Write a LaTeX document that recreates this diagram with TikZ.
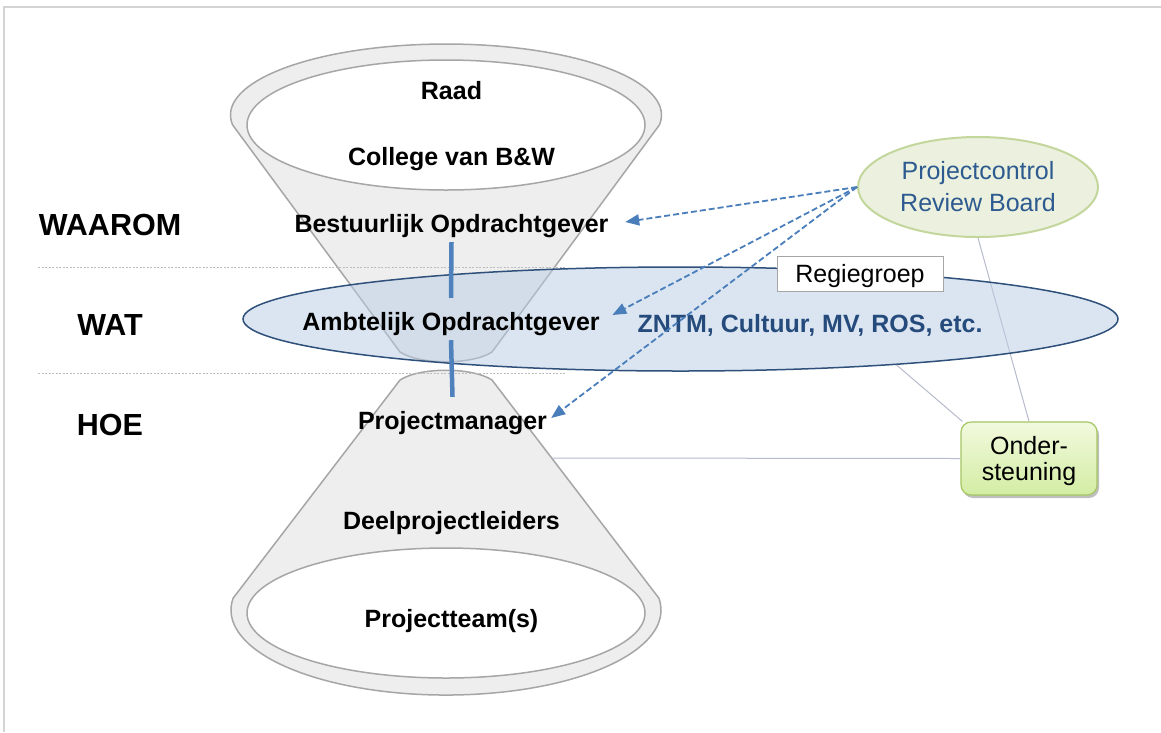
\documentclass[tikz,border=0pt]{standalone}
\usepackage{fontspec}
\setmainfont{Liberation Sans}
\usetikzlibrary{shapes.geometric,arrows.meta,shadows}
\definecolor{funfill}{HTML}{EEEEEE}
\definecolor{funedge}{HTML}{A6A6A6}
\definecolor{regfill}{HTML}{B9CDE5}
\definecolor{regedge}{HTML}{2F507A}
\definecolor{barblue}{HTML}{4F81BD}
\definecolor{arrblue}{HTML}{4A7EBB}
\definecolor{darkblue}{HTML}{254B7C}
\definecolor{rbfill}{HTML}{EBF1DE}
\definecolor{rbedge}{HTML}{C3D69B}
\definecolor{rbtext}{HTML}{2D5A8F}
\definecolor{ondtop}{HTML}{F2F9DE}
\definecolor{ondbot}{HTML}{D3EDA3}
\definecolor{ondedge}{HTML}{A5C663}
\definecolor{conn}{HTML}{B7BBCC}
\definecolor{dotgray}{HTML}{BDBDBD}
\definecolor{framegray}{HTML}{D4D4D4}
\begin{document}
\begin{tikzpicture}[x=1pt,y=-1pt,
  funnel/.style={fill=funfill,draw=funedge,line width=1.5pt,line join=round},
  innerell/.style={fill=white,draw=funedge,line width=1.5pt},
  lbl/.style={inner sep=2pt,font=\fontsize{25}{30}\selectfont\bfseries,text height=18pt,text depth=0pt},
  side/.style={inner sep=2pt,font=\fontsize{30.5}{36}\selectfont\bfseries,text height=22pt,text depth=0pt},
  dotline/.style={draw=dotgray,line width=0.8pt,dash pattern=on 2pt off 1.5pt},
  conline/.style={draw=conn,line width=1pt},
  bar/.style={draw=barblue,line width=4.5pt},
  dasharrow/.style={draw=arrblue,line width=1.8pt,dash pattern=on 6pt off 3pt,-{Triangle[length=14pt,width=11pt]}},
  regie/.style={ellipse,minimum width=875pt,minimum height=104pt,inner sep=0pt,fill=regfill,fill opacity=0.5,draw=regedge,draw opacity=1,line width=1.5pt},
  rbstyle/.style={ellipse,minimum width=240pt,minimum height=100pt,inner sep=0pt,fill=rbfill,draw=rbedge,line width=2pt,text=rbtext,align=center,font=\fontsize{25}{32}\selectfont},
  ondstyle/.style={rectangle,rounded corners=10pt,minimum width=136pt,minimum height=73pt,inner sep=0pt,top color=ondtop,bottom color=ondbot,draw=ondedge,line width=1.2pt,align=center,font=\fontsize{25}{26}\selectfont,text depth=0pt,drop shadow={shadow xshift=2pt,shadow yshift=-3pt,opacity=0.25,fill=black}},
  boxstyle/.style={rectangle,minimum width=166pt,minimum height=35pt,inner sep=0pt,fill=white,draw=funedge,line width=1pt,font=\fontsize{25}{30}\selectfont,text height=18pt,text depth=0pt}
]
\useasboundingbox (0,0) rectangle (1161,732);
\fill[white] (0,0) rectangle (1161,732);
% frame
\draw[framegray,line width=1.5pt] (4,732) -- (4,7) -- (1161,7);
% top funnel
\path[funnel] (232.6,124.9) arc[start angle=172,end angle=368,x radius=215.5,y radius=71]
  -- (492,352) .. controls (472,365) and (420,365) .. (400,352) -- cycle;
\path[innerell] (446,125) ellipse [x radius=199,y radius=65];
% bottom funnel
\path[funnel] (400,380) .. controls (420,367) and (472,367) .. (492,380)
  -- (658.9,598.2) arc[start angle=-8,end angle=188,x radius=215,y radius=85] -- cycle;
\path[innerell] (446,613) ellipse [x radius=199,y radius=65];
% dotted separators
\draw[dotline] (38,267) -- (565,267);
\draw[dotline] (38,373) -- (565,373);
% side nodes
\node[rbstyle] (rb) at (978,187) {Projectcontrol\\Review Board};
\node[ondstyle] (ond) at (1029,458.5) {Onder-\\steuning};
\coordinate (fedge) at (551.7,458);
\draw[conline] (rb.south) -- (ond.north);
\draw[conline] (fedge) -- (ond.west);
% regiegroep ellipse
\node[regie] (reg) at (680.5,319) {};
\draw[conline] (reg.-12) -- ([xshift=2pt]ond.north west);
\node[boxstyle] (rgbox) at (860,273.5) {Regiegroep};
% labels
\node[lbl] (raad) at (451.5,90) {Raad};
\node[lbl] (bw) at (451.5,156.5) {College van B\&W};
\node[lbl] (bo) at (451.5,223.5) {Bestuurlijk Opdrachtgever};
\node[lbl] (ao) at (451,321.5) {Ambtelijk Opdrachtgever};
\node[lbl,text=darkblue] (zntm) at (810,323.5) {ZNTM, Cultuur, MV, ROS, etc.};
\node[lbl] (pm) at (452.5,420) {Projectmanager};
\node[lbl] (dpl) at (451.5,520) {Deelprojectleiders};
\node[lbl] (pt) at (451.5,618.5) {Projectteam(s)};
\node[side] (waarom) at (110,224) {WAAROM};
\node[side] (wat) at (110,324) {WAT};
\node[side] (hoe) at (110,424) {HOE};
% blue bars
\draw[bar] ([yshift=-7.5pt]bo.south) -- ([yshift=12.5pt]ao.north);
\draw[bar] ([yshift=-7.5pt]ao.south) -- ([yshift=12pt]pm.north);
% dashed arrows
\draw[dasharrow] (rb.west) -- ([xshift=14.5pt,yshift=1.5pt]bo.east);
\draw[dasharrow] (rb.west) -- ([xshift=10.5pt,yshift=6.5pt]ao.east);
\draw[dasharrow] (rb.west) -- ([xshift=2pt,yshift=2pt]pm.east);
\end{tikzpicture}
\end{document}
